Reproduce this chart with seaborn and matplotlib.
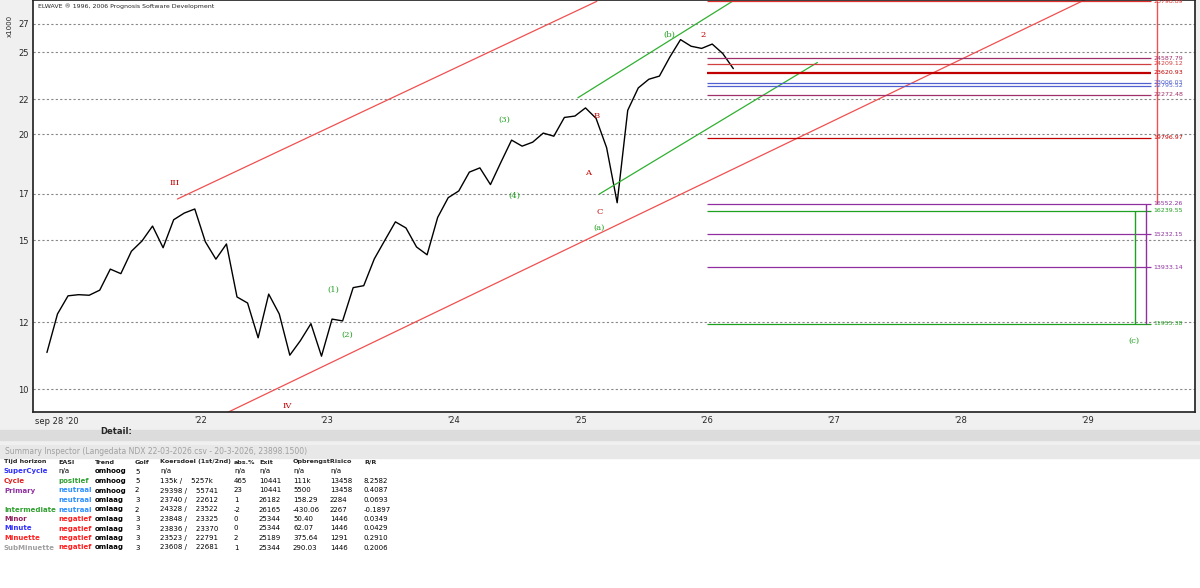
import matplotlib
matplotlib.use("Agg")
import matplotlib.pyplot as plt
import seaborn as sns
import numpy as np
import pandas as pd

sns.set_theme(style="white")
plt.rcParams['font.family'] = ['DejaVu Sans']

# monthly closes (x1000), Oct 2020 .. Mar 2026
closes = [11.05, 12.27, 12.89, 12.93, 12.91, 13.09, 13.86, 13.69, 14.55, 14.96, 15.58, 14.69,
          15.85, 16.14, 16.32, 14.93, 14.24, 14.84, 12.85, 12.64, 11.50, 12.95, 12.27, 10.97,
          11.41, 11.95, 10.94, 12.10, 12.04, 13.18, 13.25, 14.25, 14.99, 15.76, 15.50, 14.72,
          14.41, 15.95, 16.83, 17.14, 18.04, 18.25, 17.44, 18.54, 19.68, 19.36, 19.57, 20.06,
          19.89, 20.93, 21.01, 21.48, 20.88, 19.28, 16.60, 21.34, 22.68, 23.22, 23.42, 24.68,
          25.86, 25.40, 25.25, 25.55, 24.90, 23.90]
months = pd.date_range("2020-10-01", periods=len(closes), freq="MS")
years = np.asarray(months.year + (months.month - 1) / 12 + 0.04)

channel_red_upper = ([2021.82, 2025.13], [16.77, 28.7])
channel_red_lower = ([2021.98, 2029.04], [9.03, 29.1])
channel_green_upper = ([2024.98, 2026.2], [22.08, 28.7])
channel_green_lower = ([2025.15, 2026.87], [17.0, 24.3])

targets_val = [28.7, 24.588, 24.209, 23.621, 23.006, 22.80, 22.272, 19.797, 16.552, 16.240, 15.232, 13.933, 11.955]
targets_lbl = ["28798.89", "24587.79", "24209.12", "23620.93", "23006.03", "22795.52", "22272.48",
               "19796.97", "16552.26", "16239.55", "15232.15", "13933.14", "11955.38"]
targets_col = ["#e03030", "#a0306a", "#d04040", "#c00000", "#5060d0", "#5060d0", "#a0306a",
               "#c00000", "#9030a0", "#20a020", "#9030a0", "#9030a0", "#20a020"]

yticks = [10, 12, 15, 17, 20, 22, 25, 27]
xticks = [2022, 2023, 2024, 2025, 2026, 2027, 2028, 2029]
xlabels = ["'22", "'23", "'24", "'25", "'26", "'27", "'28", "'29"]

waves = [("III", 2021.80, 17.5, "#c00000"), ("IV", 2022.69, 9.55, "#c00000"),
         ("(a)", 2025.15, 15.5, "#20a020"), ("C", 2025.15, 16.2, "#c00000"),
         ("(b)", 2025.70, 26.2, "#20a020"), ("2", 2025.97, 26.2, "#c00000"),
         ("(3)", 2024.40, 20.8, "#20a020"), ("(4)", 2024.48, 16.9, "#20a020"),
         ("(c)", 2029.37, 11.4, "#20a020"), ("A", 2025.06, 18.0, "#c00000"),
         ("B", 2025.13, 21.0, "#c00000"), ("(1)", 2023.05, 13.1, "#20a020"),
         ("(2)", 2023.16, 11.6, "#20a020")]

fig = plt.figure(figsize=(12, 5.88), dpi=100)
fig.patch.set_facecolor("#f0f0f0")
ax = fig.add_axes([33/1200, 1-412/588, 1162/1200, 412/588])
ax.set_facecolor("white")
ax.set_yscale("log")
ax.set_xlim(2020.68, 2029.85)
ax.set_ylim(9.4, 28.8)
for v in yticks:
    ax.axhline(v, color="#888888", ls=(0, (2, 2)), lw=0.8, zorder=0)
sns.lineplot(x=years, y=closes, ax=ax, color="black", lw=1.0)
ax.set_xlabel("")
ax.set_ylabel("")
for xs, ys, c in [(*channel_red_upper, "#f05050"), (*channel_red_lower, "#f05050"),
                  (*channel_green_upper, "#30b030"), (*channel_green_lower, "#30b030")]:
    ax.plot(xs, ys, color=c, lw=0.9)
for v, l, c in zip(targets_val, targets_lbl, targets_col):
    ax.hlines(v, 2026.0, 2029.5, color=c, lw=1.6 if v == 23.621 else 0.9)
    ax.text(2029.52, v, l, color=c, fontsize=4.5, va="center")
ax.vlines(2029.55, 16.552, 28.7, color="#f05050", lw=1)
ax.vlines(2029.38, 11.955, 16.24, color="#20a020", lw=1)
ax.vlines(2029.46, 11.955, 16.552, color="#9030a0", lw=1)
for t, x, y, c in waves:
    ax.text(x, y, t, color=c, fontsize=6, ha="center", va="center", family="serif")
ax.set_yticks(yticks)
ax.set_yticklabels([str(v) for v in yticks], fontsize=6)
ax.yaxis.set_minor_locator(matplotlib.ticker.NullLocator())
ax.set_xticks(xticks)
ax.set_xticklabels(xlabels, fontsize=6)
ax.tick_params(length=2, pad=1)
ax.text(2020.72, 28.5, "ELWAVE ® 1996, 2006 Prognosis Software Development", fontsize=4.5, va="top")
fig.text(0.006, 0.975, "x1000", rotation=90, fontsize=5, va="top")
fig.text(35/1200, 1-421/588, "sep 28 '20", fontsize=6, va="center")
fig.text(100/1200, 1-431/588, "Detail:", fontsize=6, va="center", weight="bold")
fig.add_artist(plt.Rectangle((0, 1-440/588), 1, 10/588, color="#dcdcdc", transform=fig.transFigure))
fig.add_artist(plt.Rectangle((0, 0), 1, 1-445/588, color="white", transform=fig.transFigure))
fig.add_artist(plt.Rectangle((0, 1-458/588), 1, 13/588, color="#e8e8e8", transform=fig.transFigure))
fig.text(0.004, 1-451/588, "Summary Inspector (Langedata NDX 22-03-2026.csv - 20-3-2026, 23898.1500)",
         fontsize=5.5, color="#a0a0a0", va="center")

cols_x = [4, 58, 95, 135, 160, 234, 259, 293, 330, 364]
header = ["Tijd horizon", "EASI", "Trend", "Golf", "Koersdoel (1st/2nd)", "abs.%", "Exit", "OpbrengstRisico", "", "R/R"]
rows = [
    ["SuperCycle", "n/a", "omhoog", "5", "n/a", "n/a", "n/a", "n/a", "n/a", ""],
    ["Cycle", "positief", "omhoog", "5", "135k /    5257k", "465", "10441", "111k", "13458", "8.2582"],
    ["Primary", "neutraal", "omhoog", "2", "29398 /    55741", "23", "10441", "5500", "13458", "0.4087"],
    ["", "neutraal", "omlaag", "3", "23740 /    22612", "1", "26182", "158.29", "2284", "0.0693"],
    ["Intermediate", "neutraal", "omlaag", "2", "24328 /    23522", "-2", "26165", "-430.06", "2267", "-0.1897"],
    ["Minor", "negatief", "omlaag", "3", "23848 /    23325", "0", "25344", "50.40", "1446", "0.0349"],
    ["Minute", "negatief", "omlaag", "3", "23836 /    23370", "0", "25344", "62.07", "1446", "0.0429"],
    ["Minuette", "negatief", "omlaag", "3", "23523 /    22791", "2", "25189", "375.64", "1291", "0.2910"],
    ["SubMinuette", "negatief", "omlaag", "3", "23608 /    22681", "1", "25344", "290.03", "1446", "0.2006"],
]
name_col = ["#3030ff", "#e02020", "#9030a0", "#9030a0", "#30a030", "#902060", "#3030ff", "#ff2020", "#a0a0a0"]
easi_col = {"n/a": "black", "positief": "#30a030", "neutraal": "#3090ff", "negatief": "#ff2020"}
y0 = 462
for i, h in enumerate(header):
    fig.text(cols_x[i]/1200, 1-y0/588, h, fontsize=4.6, weight="bold", va="center")
for r, row in enumerate(rows):
    yy = 1-(y0+9.5*(r+1))/588
    for i, cell in enumerate(row):
        c = "black"
        w = "normal"
        if i == 0:
            c, w = name_col[r], "bold"
        elif i == 1:
            c = easi_col[cell]; w = "bold" if cell != "n/a" else "normal"
        elif i == 2:
            w = "bold"
        fig.text(cols_x[i]/1200, yy, cell, fontsize=5, color=c, weight=w, va="center")
fig.savefig("out.png", dpi=100, facecolor=fig.get_facecolor())
